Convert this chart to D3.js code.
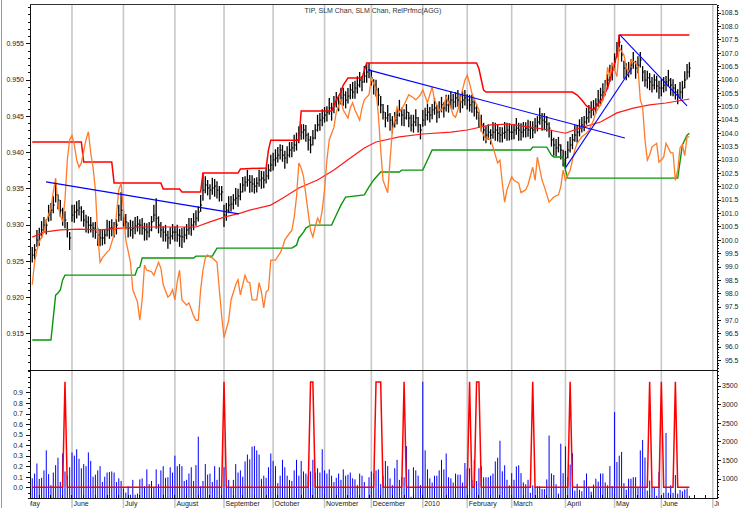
<!DOCTYPE html>
<html>
<head>
<meta charset="utf-8">
<script src="https://d3js.org/d3.v7.min.js"></script>
<style>
  body { margin: 0; background: #fff; }
  svg { font-family: "Liberation Sans", Arial, sans-serif; }
  .ax text { font-size: 7px; fill: #222; }
  .ax path, .ax line { stroke: #111; shape-rendering: crispEdges; }
</style>
</head>
<body>
<script>
// trading calendar (weekdays minus exchange holidays)
var calStart = "2009-05-01", calEnd = "2010-07-16";
var holidays = ["2009-05-25","2009-07-03","2009-09-07","2009-11-26","2009-12-25",
  "2010-01-01","2010-01-18","2010-02-15","2010-04-02","2010-05-31","2010-07-05"];
var firstBar = 3; // first bar is 2009-05-06
var monthLabels = ["May","June","July","August","September","October","November",
  "December","2010","February","March","April","May","June","July"];

// TIP daily bars
var hi = [99.73,99.84,100.37,100.45,100.70,100.85,100.77,101.31,101.38,101.63,102.12,101.71,101.49,101.20,101.07,100.67,100.29,
  101.31,101.31,101.44,101.49,101.26,101.12,100.94,100.88,100.85,100.66,100.67,100.45,100.40,100.37,100.40,100.75,100.71,100.77,100.67,100.77,101.31,101.79,
  101.14,100.97,100.66,100.75,100.71,100.85,100.89,100.77,100.82,100.64,100.62,100.67,100.89,101.31,101.56,100.88,100.67,100.51,100.56,100.34,100.47,100.59,
  100.51,100.56,100.41,100.44,100.48,100.59,100.82,100.82,101.00,101.11,101.26,101.68,102.50,102.38,102.24,102.08,102.32,102.28,102.19,102.01,102.01,
  101.31,101.38,101.63,101.64,101.71,101.94,101.91,102.12,102.35,102.38,102.62,102.43,102.42,102.31,102.34,102.62,102.58,102.57,102.69,102.83,103.18,
  103.26,103.39,103.47,103.58,103.55,103.33,103.50,103.66,103.66,103.93,104.01,104.25,104.33,104.33,104.30,104.01,103.88,104.11,104.33,104.68,104.75,104.89,
  104.97,105.00,105.31,105.13,105.38,105.53,105.38,105.69,105.69,105.56,105.68,105.83,105.91,105.95,106.12,106.28,106.13,106.51,106.58,106.62,
  106.36,106.01,105.99,105.69,105.38,105.08,104.78,105.05,104.75,104.63,104.78,104.89,105.24,104.94,104.89,105.08,104.78,104.68,104.68,104.89,104.60,104.33,
  104.86,104.94,105.11,104.97,105.08,105.31,105.05,105.19,105.35,105.15,105.43,105.43,105.56,105.46,105.53,105.61,105.43,105.56,105.61,
  105.45,105.43,105.43,105.26,105.08,104.78,104.68,104.38,104.25,104.33,104.14,104.41,104.38,104.32,104.22,104.21,104.41,104.38,104.36,
  104.33,104.33,104.56,104.38,104.36,104.41,104.40,104.49,104.45,104.44,104.56,104.63,104.94,104.75,104.74,104.63,104.40,104.12,103.82,103.77,103.85,103.58,103.37,
  103.33,103.69,103.85,103.96,104.30,104.30,104.51,104.60,104.63,104.94,105.05,105.19,105.23,105.30,105.61,105.69,105.86,105.98,106.20,106.55,106.63,
  106.98,107.40,107.67,107.30,106.70,106.61,106.66,106.76,107.03,106.70,106.87,107.03,106.50,106.36,106.33,106.24,106.09,106.20,106.14,105.95,
  106.01,106.09,106.13,106.36,106.06,106.01,105.83,105.64,105.91,105.95,106.31,106.58,106.65];
var lo = [99.15,99.27,99.74,99.78,100.06,100.27,100.20,100.68,100.71,100.99,101.40,101.14,100.86,100.53,100.43,100.09,99.62,
  100.68,100.64,100.80,100.91,100.69,100.49,100.27,100.24,100.27,100.09,100.04,99.78,99.76,99.79,99.83,100.12,100.04,100.13,100.09,100.20,100.68,100.71,
  100.50,100.39,100.09,100.12,100.04,100.21,100.31,100.20,100.19,99.97,99.98,100.09,100.32,100.68,100.41,100.24,100.09,99.94,99.93,99.67,99.83,100.01,
  99.94,99.93,99.74,99.69,99.90,100.02,100.19,100.15,100.36,100.53,100.69,101.05,101.46,101.74,101.66,101.51,101.69,101.61,101.55,101.43,101.44,
  100.48,100.71,100.99,101.06,101.14,101.31,101.24,101.48,101.77,101.81,101.99,101.76,101.78,101.73,101.77,101.99,101.91,101.93,102.11,102.26,102.55,
  102.59,102.75,102.89,103.01,102.92,102.66,102.86,103.08,103.09,103.30,103.34,103.61,103.75,103.76,103.67,103.34,103.24,103.53,103.76,104.05,104.08,104.25,
  104.39,104.43,104.68,104.46,104.74,104.95,104.81,105.06,105.02,104.92,105.10,105.26,105.28,105.28,105.48,105.70,105.56,105.88,105.88,106.05,
  105.78,105.44,105.36,105.02,104.74,104.50,104.21,104.42,104.08,103.99,104.20,104.32,104.61,104.27,104.25,104.50,104.21,104.05,104.01,104.25,104.02,103.76,
  104.23,104.27,104.47,104.39,104.51,104.68,104.38,104.55,104.77,104.58,104.80,104.76,104.92,104.88,104.96,104.98,104.76,104.92,105.03,
  104.88,104.80,104.76,104.62,104.50,104.21,104.05,103.71,103.61,103.75,103.57,103.78,103.71,103.68,103.64,103.64,103.78,103.71,103.72,
  103.75,103.76,103.93,103.71,103.72,103.83,103.83,103.86,103.78,103.80,103.98,104.06,104.31,104.08,104.10,104.05,103.83,103.49,103.15,103.13,103.27,103.01,102.74,
  102.66,103.05,103.27,103.39,103.67,103.63,103.87,104.02,104.06,104.31,104.38,104.55,104.65,104.73,104.98,105.02,105.22,105.40,105.63,105.92,105.96,
  106.34,106.82,107.05,106.67,106.03,105.97,106.08,106.19,106.40,106.03,106.23,106.45,105.93,105.73,105.66,105.60,105.51,105.63,105.51,105.28,
  105.37,105.51,105.56,105.73,105.39,105.37,105.25,105.07,105.28,105.28,105.67,106.00,106.08];
var cl = [99.43,99.62,99.99,100.18,100.37,100.55,100.55,100.93,101.11,101.30,101.68,101.49,101.11,100.93,100.74,100.37,100.07,
  100.93,101.04,101.11,101.19,101.04,100.74,100.67,100.55,100.55,100.44,100.29,100.18,100.07,100.07,100.18,100.37,100.44,100.44,100.37,100.55,100.93,101.11,
  100.81,100.67,100.44,100.37,100.44,100.52,100.59,100.55,100.44,100.37,100.29,100.37,100.67,100.93,100.81,100.55,100.37,100.29,100.18,100.07,100.14,100.29,
  100.29,100.18,100.14,100.11,100.18,100.37,100.44,100.55,100.67,100.81,101.04,101.30,101.86,102.05,101.94,101.86,101.94,102.01,101.86,101.71,101.79,
  100.93,101.11,101.30,101.34,101.49,101.56,101.64,101.79,102.05,102.16,102.24,102.16,102.09,102.01,102.12,102.24,102.31,102.24,102.39,102.61,102.80,
  102.99,103.06,103.17,103.36,103.17,103.06,103.17,103.36,103.44,103.55,103.74,103.92,104.03,104.11,103.92,103.74,103.55,103.81,104.11,104.30,104.48,104.56,
  104.67,104.78,104.93,104.86,105.05,105.23,105.16,105.31,105.42,105.23,105.38,105.61,105.53,105.68,105.79,105.98,105.91,106.13,106.28,106.36,
  106.06,105.79,105.61,105.42,105.05,104.78,104.56,104.67,104.48,104.30,104.48,104.67,104.86,104.67,104.56,104.78,104.56,104.30,104.41,104.56,104.30,104.11,
  104.48,104.67,104.78,104.67,104.86,104.93,104.78,104.86,105.05,104.93,105.05,105.16,105.23,105.16,105.31,105.23,105.16,105.23,105.31,
  105.23,105.05,105.16,104.93,104.78,104.56,104.30,104.11,103.92,104.03,103.92,104.03,104.11,103.99,103.92,103.99,104.03,104.11,104.03,
  104.03,104.11,104.18,104.11,104.03,104.11,104.18,104.11,104.18,104.11,104.26,104.41,104.56,104.48,104.41,104.33,104.18,103.74,103.55,103.44,103.55,103.36,102.99,
  103.06,103.36,103.55,103.74,103.92,104.03,104.18,104.30,104.41,104.56,104.78,104.86,104.93,105.08,105.23,105.42,105.53,105.68,105.98,106.17,106.36,
  106.65,107.10,107.40,106.92,106.43,106.28,106.36,106.54,106.65,106.43,106.54,106.73,106.28,105.98,106.06,105.91,105.79,105.98,105.76,105.68,
  105.68,105.79,105.91,105.98,105.79,105.68,105.53,105.42,105.53,105.68,105.98,106.28,106.43];

// moving average, channels (sparse vertices: bar index / price)
var maDay = [0,5,12,20,29,38,46,55,63,70,76,82,89,93,102,107,114,122,129,136,142,147,157,167,179,186,196,204,213,221,228,234,243,250,257,264,271,281];
var maVal = [100.10,100.29,100.37,100.40,100.37,100.44,100.48,100.48,100.48,100.48,100.67,100.85,101.00,101.11,101.30,101.56,101.94,102.24,102.61,103.06,103.44,103.66,103.85,103.96,104.03,104.11,104.30,104.33,104.22,104.11,103.99,104.18,104.41,104.75,104.93,105.05,105.12,105.27];
var upDay = [0,21,22,34,35,55,56,63,64,72,73,88,89,100,101,102,114,115,128,130,132,133,135,141,143,190,191,192,193,194,231,233,235,237,240,242,244,246,248,250,251,281];
var upVal = [103.66,103.66,102.91,102.91,102.13,102.13,101.90,101.90,101.79,101.79,102.50,102.50,102.65,102.69,103.36,103.73,103.73,104.82,104.82,105.23,105.53,105.79,106.06,106.06,106.62,106.62,106.40,106.00,105.60,105.53,105.53,105.42,105.23,105.01,104.86,105.08,105.31,105.68,106.28,106.92,107.67,107.67];
var dnDay = [0,8,10,11,12,13,14,44,45,46,47,69,70,77,78,79,111,113,114,116,117,119,128,130,132,134,142,144,146,149,157,158,167,169,171,213,214,220,222,223,227,228,229,276,278,280,281];
var dnVal = [96.25,96.25,97.93,98.01,98.12,98.50,98.68,98.68,98.94,98.98,99.32,99.32,99.39,99.39,99.54,99.69,99.69,99.80,100.07,100.29,100.44,100.55,100.55,100.93,101.30,101.60,101.68,101.98,102.24,102.54,102.54,102.61,102.61,102.99,103.36,103.36,103.47,103.47,103.17,103.10,103.10,102.61,102.31,102.31,103.55,103.92,103.99];
// trend lines: [startBar, startPrice, endBar, endPrice]
var trendLines = [[5.9,102.17,88.4,100.97],[143.6,106.36,253.4,103.81],[228.2,102.72,256.4,106.43],[251.3,107.67,280,105.01]];

// relative performance vs AGG (left axis)
var relDay = [0,1,2,3,5,6,8,9,10,11,12,13,14,15,16,17,18,19,20,21,23,24,25,26,27,28,29,30,32,33,35,36,37,38,39,40,42,43,45,46,47,48,49,51,52,54,55,56,58,59,60,61,62,63,64,66,67,69,70,71,72,73,74,75,76,77,79,80,81,82,84,85,87,88,89,90,91,92,93,94,96,97,98,99,100,101,102,104,106,107,108,110,111,112,113,114,115,116,117,118,119,120,121,122,123,124,125,126,127,129,130,132,133,135,136,137,138,140,141,142,144,145,147,148,149,150,152,153,154,156,157,159,160,161,163,164,166,167,169,170,171,172,174,175,176,177,179,180,181,182,183,184,185,186,187,188,190,191,192,194,195,196,197,199,200,201,202,203,205,206,208,209,211,212,214,215,216,218,219,221,223,225,226,227,228,230,232,233,235,237,238,240,241,243,244,245,246,247,248,250,251,253,254,255,256,258,259,260,261,262,263,264,265,267,268,270,271,273,274,275,276,277,278,279,280,281];
var relVal = [0.9217,0.9248,0.9265,0.9276,0.9290,0.9304,0.9323,0.9345,0.9364,0.9327,0.9313,0.9304,0.9334,0.9389,0.9417,0.9423,0.9410,0.9389,0.9379,0.9385,0.9417,0.9428,0.9399,0.9379,0.9348,0.9286,0.9248,0.9254,0.9262,0.9265,0.9286,0.9313,0.9348,0.9357,0.9320,0.9279,0.9248,0.9210,0.9193,0.9168,0.9196,0.9244,0.9237,0.9235,0.9230,0.9248,0.9240,0.9217,0.9200,0.9203,0.9210,0.9196,0.9221,0.9237,0.9196,0.9189,0.9192,0.9174,0.9168,0.9168,0.9210,0.9237,0.9254,0.9258,0.9255,0.9254,0.9248,0.9210,0.9174,0.9144,0.9168,0.9196,0.9217,0.9224,0.9203,0.9217,0.9230,0.9221,0.9220,0.9196,0.9196,0.9220,0.9207,0.9185,0.9207,0.9210,0.9251,0.9251,0.9261,0.9268,0.9279,0.9288,0.9292,0.9310,0.9338,0.9385,0.9378,0.9366,0.9341,0.9316,0.9292,0.9283,0.9297,0.9309,0.9302,0.9320,0.9348,0.9389,0.9417,0.9434,0.9455,0.9472,0.9458,0.9447,0.9461,0.9468,0.9458,0.9444,0.9461,0.9472,0.9479,0.9502,0.9486,0.9451,0.9403,0.9361,0.9344,0.9389,0.9430,0.9462,0.9455,0.9465,0.9472,0.9479,0.9475,0.9472,0.9479,0.9486,0.9468,0.9479,0.9490,0.9472,0.9458,0.9458,0.9465,0.9476,0.9461,0.9451,0.9448,0.9458,0.9472,0.9486,0.9499,0.9506,0.9495,0.9481,0.9465,0.9458,0.9430,0.9417,0.9419,0.9417,0.9407,0.9385,0.9389,0.9357,0.9331,0.9348,0.9366,0.9361,0.9357,0.9344,0.9348,0.9355,0.9379,0.9361,0.9393,0.9361,0.9352,0.9331,0.9338,0.9341,0.9352,0.9375,0.9361,0.9375,0.9403,0.9412,0.9421,0.9426,0.9430,0.9444,0.9455,0.9465,0.9472,0.9481,0.9517,0.9504,0.9523,0.9504,0.9544,0.9534,0.9517,0.9509,0.9527,0.9523,0.9517,0.9472,0.9462,0.9417,0.9389,0.9396,0.9407,0.9412,0.9386,0.9393,0.9412,0.9399,0.9399,0.9361,0.9375,0.9406,0.9410,0.9395,0.9421,0.9421];

// volume (right lower axis) and signal days (left lower axis = 1)
var vol = [1010,1138,1408,996,1024,1223,1762,1124,826,1166,1365,1564,911,1677,1195,1081,1308,1706,1620,1791,
  1535,1280,1393,1337,1706,1478,1053,1109,1223,1337,911,1053,1166,1180,1195,1166,911,1010,939,740,
  627,797,570,968,570,599,982,1010,797,1251,854,939,769,1251,854,1223,1337,1024,1039,1308,
  1166,1620,1337,1393,1337,939,968,1138,1308,939,1365,2131,797,939,1393,1109,1138,911,1337,968,
  1308,797,1308,854,968,769,968,1393,1166,1223,1053,1464,1649,1521,1862,1876,1762,1649,996,1081,
  1024,1308,1677,1478,1337,882,1081,1507,1308,1081,968,939,1223,1507,1081,1478,1195,1138,1081,1195,
  1507,1166,1280,1166,1791,1223,1138,1251,1081,911,1024,1138,968,1251,1081,1109,1166,1010,982,826,
  1138,1081,911,485,1039,1195,1138,1223,1251,854,1081,1478,1337,1010,826,1280,1507,968,1039,1039,
  1876,1251,513,1308,1223,1081,826,3607,1762,1251,1010,897,1081,1081,1223,1507,1251,1677,1039,1010,
  897,1138,1109,1109,897,1422,1280,1280,968,1507,939,1280,1337,1039,1039,1039,1081,1138,1464,1564,
  2020,1200,1360,970,820,1150,970,1330,1360,1150,900,850,970,620,820,780,800,800,720,720,
  980,2160,1140,1100,850,600,1940,1150,1870,1050,1380,1680,680,860,700,660,960,1140,780,650,
  840,1000,920,1140,1140,900,820,1340,800,2790,1450,1620,1720,880,700,1000,1000,1040,1040,780,
  1760,2040,1570,680,950,770,770,540,1180,540,620,2230,620,820,620,1100,600,700,660,710,740,540];
var signalDays = [14,82,119,120,147,148,149,159,187,190,191,214,230,264,269,275];

var W = 740, H = 508, L = 30, R = 717, T = 4, MID = 370, B = 498;

var parse = d3.utcParse("%Y-%m-%d"), fmt = d3.utcFormat("%Y-%m-%d");
var hol = new Set(holidays);
var days = [];
for (var t = parse(calStart); t <= parse(calEnd); t = d3.utcDay.offset(t, 1)) {
  var wd = t.getUTCDay();
  if (wd === 0 || wd === 6 || hol.has(fmt(t))) continue;
  days.push(t);
}

var x = d3.scaleLinear().domain([2.043, 295.8]).range([L, R]);
var xb = function(i) { return x(i + firstBar); };
var yPx = d3.scaleLinear().domain([95.128, 108.826]).range([MID, T]);
var yRel = d3.scaleLinear().domain([0.90994, 0.96042]).range([MID, T]);
var yOsc = d3.scaleLinear().domain([-0.1013, 1.1127]).range([B, MID]);
var yVol = d3.scaleLinear().domain([481, 3922]).range([B, MID]);

var svg = d3.select("body").append("svg").attr("width", W).attr("height", H);
var defs = svg.append("defs");
defs.append("clipPath").attr("id", "cu").append("rect").attr("x", L).attr("y", T).attr("width", R - L).attr("height", MID - T);
defs.append("clipPath").attr("id", "cl").append("rect").attr("x", L).attr("y", MID).attr("width", R - L).attr("height", B - MID);
defs.append("clipPath").attr("id", "cx").append("rect").attr("x", L).attr("y", B).attr("width", R - L + 2).attr("height", H - B);

// month starts and week starts
var monthStarts = [], weekStarts = [];
days.forEach(function(d, k) {
  if (k === 0 || d.getUTCMonth() !== days[k - 1].getUTCMonth()) monthStarts.push(k);
  if (k > 0 && d.getUTCDay() < days[k - 1].getUTCDay()) weekStarts.push(k);
});

// grid
svg.append("g").selectAll("line").data(monthStarts.slice(1)).enter().append("line")
  .attr("x1", function(k) { return x(k); }).attr("x2", function(k) { return x(k); })
  .attr("y1", T).attr("y2", H)
  .attr("stroke", "#c8c8c8").attr("stroke-width", 1.6);

// upper panel
var up = svg.append("g").attr("clip-path", "url(#cu)");
var bars = up.append("g").attr("stroke", "#000");
cl.forEach(function(c, i) {
  var xi = xb(i);
  bars.append("line").attr("x1", xi).attr("x2", xi).attr("y1", yPx(hi[i])).attr("y2", yPx(lo[i])).attr("stroke-width", 1.3);
  bars.append("line").attr("x1", xi).attr("x2", xi + 1.5).attr("y1", yPx(c)).attr("y2", yPx(c)).attr("stroke-width", 1);
});

function pts(dayArr, valArr) { return dayArr.map(function(d, k) { return [d, valArr[k]]; }); }
var pxLine = d3.line().x(function(d) { return xb(d[0]); }).y(function(d) { return yPx(d[1]); });
var relLine = d3.line().x(function(d) { return xb(d[0]); }).y(function(d) { return yRel(d[1]); });

up.append("path").attr("d", pxLine(pts(maDay, maVal))).attr("fill", "none").attr("stroke", "#ff1a1a").attr("stroke-width", 1.2);
up.append("path").attr("d", pxLine(pts(upDay, upVal))).attr("fill", "none").attr("stroke", "#ff0000").attr("stroke-width", 1.5);
up.append("path").attr("d", pxLine(pts(dnDay, dnVal))).attr("fill", "none").attr("stroke", "#0a960a").attr("stroke-width", 1.4);
up.append("path").attr("d", relLine(pts(relDay, relVal))).attr("fill", "none").attr("stroke", "#ff7b29").attr("stroke-width", 1.3);
up.append("g").selectAll("line").data(trendLines).enter().append("line")
  .attr("x1", function(d) { return xb(d[0]); }).attr("y1", function(d) { return yPx(d[1]); })
  .attr("x2", function(d) { return xb(d[2]); }).attr("y2", function(d) { return yPx(d[3]); })
  .attr("stroke", "#0000ff").attr("stroke-width", 1.1);

// lower panel
var lowG = svg.append("g").attr("clip-path", "url(#cl)");
lowG.append("g").selectAll("rect").data(vol).enter().append("rect")
  .attr("x", function(v, i) { return xb(i) - 0.5; })
  .attr("width", 1)
  .attr("y", function(v) { return yVol(v); })
  .attr("height", function(v) { return B - yVol(v); })
  .attr("fill", "#0000ff");
var sig = new Set(signalDays);
var sigLine = d3.line().x(function(d, i) { return xb(i); }).y(function(d) { return yOsc(d); });
lowG.append("path").attr("d", sigLine(cl.map(function(c, i) { return sig.has(i) ? 1 : 0; })))
  .attr("fill", "none").attr("stroke", "#ff0000").attr("stroke-width", 1.5);

// frame lines
svg.append("line").attr("x1", L).attr("x2", R).attr("y1", T).attr("y2", T).attr("stroke", "#333").attr("shape-rendering", "crispEdges");
svg.append("line").attr("x1", L).attr("x2", R).attr("y1", MID).attr("y2", MID).attr("stroke", "#111").attr("shape-rendering", "crispEdges");
svg.append("line").attr("x1", L).attr("x2", R).attr("y1", B).attr("y2", B).attr("stroke", "#111").attr("shape-rendering", "crispEdges");
svg.append("line").attr("x1", 1.5).attr("x2", 1.5).attr("y1", 0).attr("y2", H).attr("stroke", "#999");

// axes
function axis(g, fn, scale, major, minor, fmtFn, extra) {
  g.call(fn(scale).tickValues(minor).tickSize(2).tickFormat("").tickSizeOuter(0));
  var m = g.append("g").call(fn(scale).tickValues(major).tickSize(4).tickPadding(extra || 2).tickFormat(fmtFn).tickSizeOuter(0));
  m.select(".domain").remove();
  return m;
}
var relMajor = d3.range(0.915, 0.9551, 0.005), relMinor = d3.range(0.910, 0.9605, 0.001);
axis(svg.append("g").attr("class", "ax").attr("transform", "translate(" + L + ",0)"), d3.axisLeft, yRel, relMajor, relMinor, d3.format(".3f"));
var pxMajor = d3.range(95.5, 108.51, 0.5), pxMinor = d3.range(95.2, 108.81, 0.1);
var ra = axis(svg.append("g").attr("class", "ax").attr("transform", "translate(" + R + ",0)"), d3.axisRight, yPx, pxMajor, pxMinor, d3.format(".1f"));
ra.selectAll("text").attr("text-anchor", "end").attr("x", 21.5);
var oscMajor = d3.range(0, 0.91, 0.1), oscMinor = d3.range(-0.1, 1.11, 0.05);
axis(svg.append("g").attr("class", "ax").attr("transform", "translate(" + L + ",0)"), d3.axisLeft, yOsc, oscMajor, oscMinor, d3.format(".1f"), 3);
var volMajor = d3.range(1000, 3501, 500), volMinor = d3.range(500, 3901, 100);
axis(svg.append("g").attr("class", "ax").attr("transform", "translate(" + R + ",0)"), d3.axisRight, yVol, volMajor, volMinor, d3.format("d"), 1);

// time axis
var lbl = svg.append("g").attr("class", "ax").attr("clip-path", "url(#cx)");
lbl.selectAll("text").data(monthStarts).enter().append("text")
  .attr("x", function(k) { return x(k) + 1.5; }).attr("y", 506)
  .text(function(k, j) { return monthLabels[j]; });
svg.append("g").attr("class", "ax").selectAll("line").data(weekStarts).enter().append("line")
  .attr("x1", function(k) { return x(k); }).attr("x2", function(k) { return x(k); })
  .attr("y1", B - 3).attr("y2", B).style("display", function(k) { return x(k) < L || x(k) > R ? "none" : null; });

// title
svg.append("text").attr("x", 373).attr("y", 13).attr("text-anchor", "middle")
  .style("font-size", "7px").style("fill", "#333")
  .text("TIP, SLM Chan, SLM Chan, RelPrfmc(AGG)");
</script>
</body>
</html>
